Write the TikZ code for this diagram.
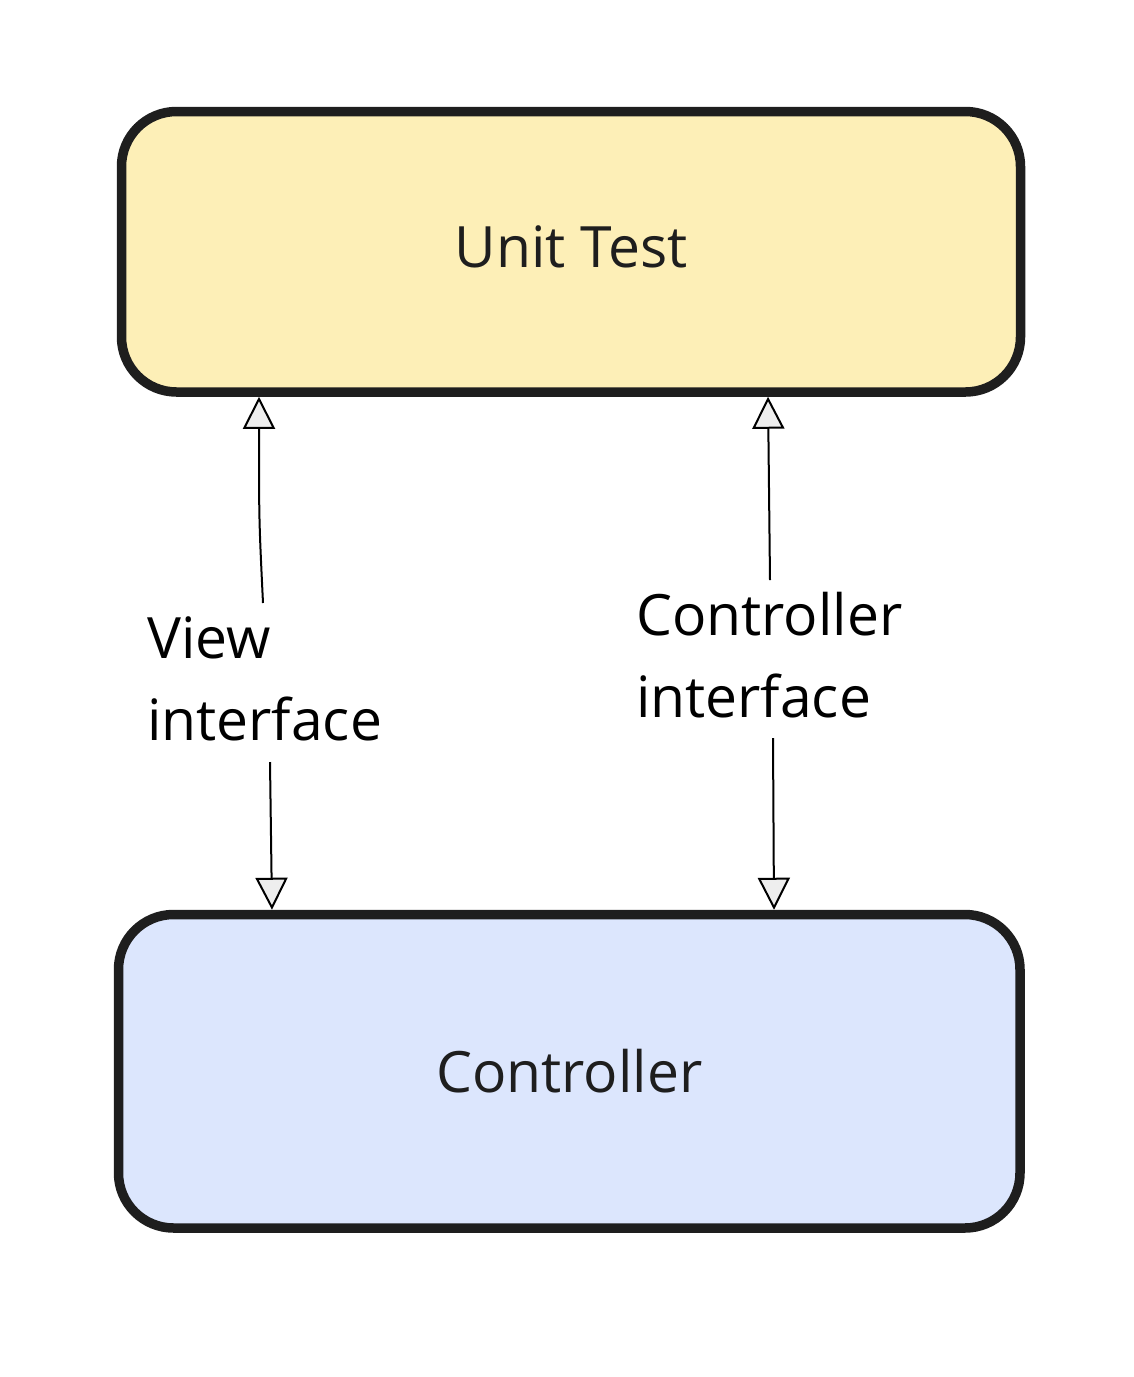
\documentclass[tikz,border=0pt]{standalone}
\usepackage{fontspec}
\setmainfont{Open Sans}
\usetikzlibrary{arrows.meta}
\definecolor{edgecol}{HTML}{1E1E1E}
\definecolor{yellowfill}{HTML}{FDEFB7}
\definecolor{bluefill}{HTML}{DCE6FD}
\definecolor{tipfill}{HTML}{EEEEEE}
\tikzset{
  box/.style={draw=edgecol, line width=9.5pt, rounded corners=55pt, text=edgecol,
    font=\fontsize{57}{82}\selectfont},
  lab/.style={font=\fontsize{57}{82}\selectfont, align=left, anchor=base west, inner sep=0pt, text=black},
  conn/.style={draw=black, line width=2pt, -{Triangle[width=32pt,length=32pt,fill=tipfill]}}
}
\begin{document}
\begin{tikzpicture}[x=1pt,y=-1pt]
\useasboundingbox (0,0) rectangle (1134,1377);
\node[box, fill=yellowfill, minimum width=899pt, minimum height=280.5pt, text depth=10pt] (ut) at (571,251.75) {Unit Test};
\node[box, fill=bluefill, minimum width=901.5pt, minimum height=313.5pt] (ct) at (569.25,1071.25) {Controller};
\node[lab] (vl) at (147,740) {View\\interface};
\node[lab] (cl) at (636,717) {Controller\\interface};
\coordinate (v1) at (263,603);
\coordinate (v1c) at (259,520);
\coordinate (v2) at (270,762);
\coordinate (c1) at (770,580);
\coordinate (c2) at (773,738);
\coordinate (vt) at ([xshift=-312pt]ut.south);
\coordinate (ctop) at ([xshift=197pt]ut.south);
\coordinate (vb) at ([xshift=-297.25pt]ct.north);
\coordinate (cb) at ([xshift=204.75pt]ct.north);
\draw[conn] (v1) .. controls (v1c) .. (vt);
\draw[conn] (v2) -- (vb);
\draw[conn] (c1) -- (ctop);
\draw[conn] (c2) -- (cb);
\end{tikzpicture}
\end{document}
